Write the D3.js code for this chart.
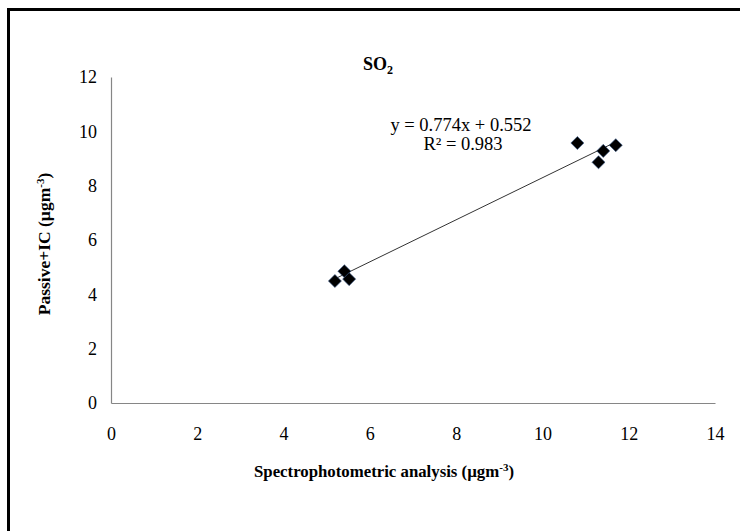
<html>
<head>
<meta charset="utf-8" />
<title>SO2</title>
<script src="https://cdn.jsdelivr.net/npm/d3@7/dist/d3.min.js"></script>
<style>
body { margin:0; background:#fff; }
text { font-family: "Liberation Serif", "Times New Roman", serif; }
</style>
</head>
<body>
<script>
// readings, Spectrophotometric (x) vs Passive+IC (y)
var spectro = [5.19, 5.41, 5.52, 10.81, 11.41, 11.70, 11.30];
var passive = [4.49, 4.85, 4.56, 9.57, 9.28, 9.49, 8.86];
var xTicks = [0, 2, 4, 6, 8, 10, 12, 14];
var yTicks = [0, 2, 4, 6, 8, 10, 12];
var slope = 0.774, intercept = 0.552, r2 = 0.983;

var W = 740, H = 531;
var plot = {left: 111, right: 715, top: 77, bottom: 403};

var svg = d3.select("body").append("svg")
	.attr("width", W).attr("height", H);

svg.append("rect").attr("width", W).attr("height", H).attr("fill", "white");
// outer frame (runs off right/bottom edge)
svg.append("rect").attr("x", 8.5).attr("y", 9.5).attr("width", W + 20).attr("height", H + 20)
	.attr("fill", "none").attr("stroke", "black").attr("stroke-width", 3);

var x = d3.scaleLinear().domain([0, 14]).range([plot.left, plot.right]);
var y = d3.scaleLinear().domain([0, 12]).range([plot.bottom, plot.top]);

// axes, no tick marks
var gx = svg.append("g").attr("transform", "translate(0," + plot.bottom + ")")
	.call(d3.axisBottom(x).tickValues(xTicks).tickSize(0).tickPadding(24));
var gy = svg.append("g").attr("transform", "translate(" + plot.left + ",0)")
	.call(d3.axisLeft(y).tickValues(yTicks).tickSize(0).tickPadding(14));
[gx, gy].forEach(function(g) {
	g.attr("font-family", null).attr("font-size", null);
	g.select(".domain").attr("stroke", "#868686").attr("stroke-width", 1.2);
	g.selectAll("text")
		.style("font-family", "'Liberation Serif', serif")
		.style("font-size", "18px").attr("fill", "#000");
});

// trendline
var x0 = d3.min(spectro), x1 = d3.max(spectro);
svg.append("line")
	.attr("x1", x(x0)).attr("y1", y(slope * x0 + intercept))
	.attr("x2", x(x1)).attr("y2", y(slope * x1 + intercept))
	.attr("stroke", "#333").attr("stroke-width", 1);

// markers
svg.selectAll(".pt").data(spectro).enter().append("path")
	.attr("class", "pt")
	.attr("d", d3.symbol().type(d3.symbolSquare).size(85))
	.attr("transform", function(d, i) { return "translate(" + x(d) + "," + y(passive[i]) + ") rotate(45)"; })
	.attr("fill", "#000").attr("stroke", "#3a5a8a").attr("stroke-width", 0.6);

// title
var title = svg.append("text").attr("x", 378).attr("y", 70).attr("text-anchor", "middle")
	.attr("font-size", "18px").attr("font-weight", "bold");
title.append("tspan").text("SO");
title.append("tspan").attr("font-size", "12px").attr("dy", 4).text("2");

// equation
svg.append("text").attr("x", 461).attr("y", 131).attr("text-anchor", "middle")
	.attr("font-size", "18.5px").text("y = " + slope + "x + " + intercept);
svg.append("text").attr("x", 463).attr("y", 150).attr("text-anchor", "middle")
	.attr("font-size", "18.5px").text("R\u00b2 = " + r2);

// axis titles
var xt = svg.append("text").attr("x", 384).attr("y", 477).attr("text-anchor", "middle")
	.attr("font-size", "16.8px").attr("font-weight", "bold");
xt.append("tspan").text("Spectrophotometric analysis (\u00b5gm");
xt.append("tspan").attr("font-size", "11px").attr("dy", -6).text("-3");
xt.append("tspan").attr("dy", 6).text(")");

var yt = svg.append("text").attr("transform", "translate(50,244) rotate(-90)").attr("text-anchor", "middle")
	.attr("font-size", "17.5px").attr("font-weight", "bold");
yt.append("tspan").text("Passive+IC (\u00b5gm");
yt.append("tspan").attr("font-size", "11px").attr("dy", -6).text("-3");
yt.append("tspan").attr("dy", 6).text(")");
</script>
</body>
</html>
